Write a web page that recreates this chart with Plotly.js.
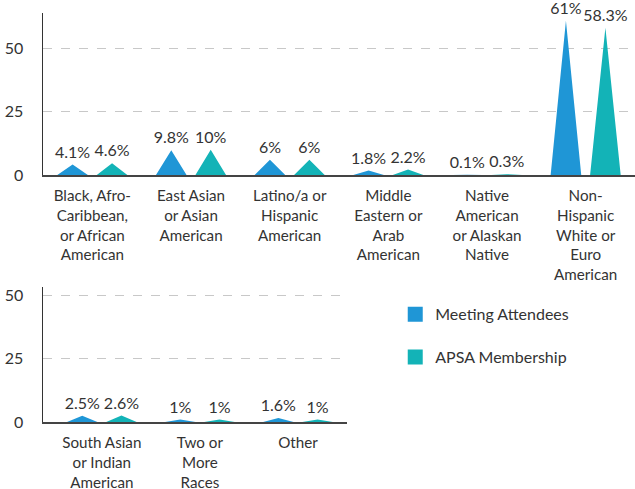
<!DOCTYPE html>
<html>
<head>
<meta charset="utf-8">
<script src="https://cdn.plot.ly/plotly-3.0.1.min.js"></script>
<style>html,body{margin:0;padding:0;background:#fff;}#chart{width:635px;height:489px;}</style>
</head>
<body>
<div id="chart"></div>
<script>
// Top panel categories
var topCategories = [
  "Black, Afro-<br>Caribbean,<br>or African<br>American",
  "East Asian<br>or Asian<br>American",
  "Latino/a or<br>Hispanic<br>American",
  "Middle<br>Eastern or<br>Arab<br>American",
  "Native<br>American<br>or Alaskan<br>Native",
  "Non-<br>Hispanic<br>White or<br>Euro<br>American"
];
var topAttendees = [4.1, 9.8, 6, 1.8, 0.1, 61];
var topMembership = [4.6, 10, 6, 2.2, 0.3, 58.3];

// Bottom panel categories
var bottomCategories = [
  "South Asian<br>or Indian<br>American",
  "Two or<br>More<br>Races",
  "Other"
];
var bottomAttendees = [2.5, 1, 1.6];
var bottomMembership = [2.6, 1, 1];

var seriesNames = ["Meeting Attendees", "APSA Membership"];
var yTicks = [0, 25, 50];

var colors = ["#1f96d6", "#13b3b7"];
var FONT = "Lato, 'Open Sans', sans-serif";
var FS = 16, TFS = 15.2;
var OFFSET = 0.2, HALF = 0.155;

function triangles(values, shift, xa, ya, color) {
  var xs = [], ys = [];
  values.forEach(function (v, i) {
    var c = i + shift;
    xs.push(c - HALF, c, c + HALF, c - HALF, null);
    ys.push(0, v, 0, 0, null);
  });
  return {
    type: "scatter", mode: "none", x: xs, y: ys, fill: "toself",
    fillcolor: color, xaxis: xa, yaxis: ya, showlegend: false, hoverinfo: "skip"
  };
}
function labels(values, shift, xa, ya) {
  return {
    type: "scatter", mode: "markers+text",
    x: values.map(function (v, i) { return i + shift; }),
    y: values,
    text: values.map(function (v) { return v + "%"; }),
    textposition: "top center",
    marker: {size: 3, opacity: 0},
    textfont: {family: FONT, size: FS, color: "#333"},
    xaxis: xa, yaxis: ya, showlegend: false, hoverinfo: "skip", cliponaxis: false
  };
}

var data = [
  triangles(topAttendees, -OFFSET, "x", "y", colors[0]),
  triangles(topMembership, OFFSET, "x", "y", colors[1]),
  labels(topAttendees, -OFFSET, "x", "y"),
  labels(topMembership, OFFSET, "x", "y"),
  triangles(bottomAttendees, -OFFSET, "x2", "y2", colors[0]),
  triangles(bottomMembership, OFFSET, "x2", "y2", colors[1]),
  labels(bottomAttendees, -OFFSET, "x2", "y2"),
  labels(bottomMembership, OFFSET, "x2", "y2"),
  {type: "scatter", mode: "markers", x: [null], y: [null], name: seriesNames[0],
   marker: {symbol: "square", size: 15, color: colors[0]}, xaxis: "x2", yaxis: "y2", legendgroup: "a"},
  {type: "scatter", mode: "markers", x: [null], y: [null], name: seriesNames[1],
   marker: {symbol: "square", size: 15, color: colors[1]}, xaxis: "x2", yaxis: "y2", legendgroup: "b"}
];

var yCommon = {
  tickvals: yTicks, ticktext: yTicks.map(String),
  showgrid: true, gridcolor: "#c8c8c8", griddash: "dash", gridwidth: 1,
  zeroline: false, showline: true, linecolor: "#333", linewidth: 1.5,
  ticks: "", ticklabelstandoff: 15,
  tickfont: {family: FONT, size: FS, color: "#333"}, fixedrange: true
};
var xCommon = {
  showgrid: false, zeroline: false, showline: true, linecolor: "#444", linewidth: 2,
  ticks: "", ticklabelstandoff: 6,
  tickfont: {family: FONT, size: TFS, color: "#333"}, fixedrange: true
};

var layout = {
  width: 635, height: 489,
  margin: {l: 43, r: 0, t: 13, b: 67},
  paper_bgcolor: "#fff", plot_bgcolor: "#fff",
  font: {family: FONT, color: "#333"},
  showlegend: true,
  legend: {x: 0.595, y: 0.305, xanchor: "left", yanchor: "top",
           font: {family: FONT, size: FS, color: "#333"},
           traceorder: "grouped", tracegroupgap: 19, bgcolor: "rgba(0,0,0,0)"},
  xaxis: Object.assign({}, xCommon, {domain: [0, 1], range: [-0.5, 5.5], anchor: "y",
    tickvals: topCategories.map(function (c, i) { return i; }), ticktext: topCategories}),
  yaxis: Object.assign({}, yCommon, {domain: [0.604, 1], range: [0, 64.1], anchor: "x"}),
  xaxis2: Object.assign({}, xCommon, {domain: [0, 0.5135], range: [-0.6, 2.5], anchor: "y2",
    tickvals: bottomCategories.map(function (c, i) { return i; }), ticktext: bottomCategories}),
  yaxis2: Object.assign({}, yCommon, {domain: [0, 0.330], range: [0, 53.4], anchor: "x2"})
};

Plotly.newPlot("chart", data, layout, {displayModeBar: false, staticPlot: true});
</script>
</body>
</html>
